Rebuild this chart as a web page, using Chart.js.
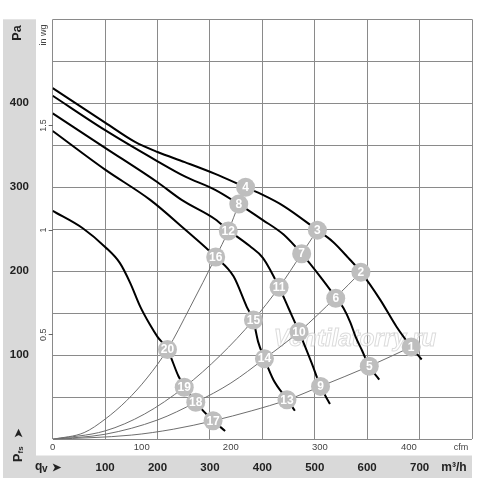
<!DOCTYPE html>
<html>
<head>
<meta charset="utf-8">
<title>Fan performance curves</title>
<script src="https://cdn.jsdelivr.net/npm/chart.js"></script>
<style>
  html, body { margin: 0; padding: 0; background: #fff; }
</style>
</head>
<body>
<canvas id="fanChart" width="500" height="480"></canvas>

<script>
// flow in m3/h, static pressure in Pa
const curve1Q = [0, 100, 157, 200, 252, 310, 368, 401, 440, 505, 535, 564, 588, 625, 656, 684, 704];
const curve1P = [418, 377, 354, 342, 330, 316, 300, 291, 278, 249, 235, 216, 199, 166, 134, 110, 95];
const curve2Q = [0, 100, 200, 252, 310, 355, 401, 440, 475, 510, 540, 555, 568, 578, 590, 604, 623];
const curve2P = [409, 368, 331, 313, 297, 280, 261, 244, 221, 194, 169, 156, 139, 122, 106, 87, 71];
const curve3Q = [0, 100, 200, 246, 310, 335, 376, 401, 432, 450, 470, 494, 511, 529];
const curve3P = [388, 347, 306, 285, 262, 249, 230, 216, 181, 156, 128, 91, 63, 42];
const curve4Q = [0, 100, 186, 252, 311, 345, 370, 383, 392, 404, 421, 448, 462];
const curve4P = [367, 321, 285, 250, 217, 194, 158, 141, 116, 96, 71, 47, 34];
const curve5Q = [0, 58, 100, 128, 148, 167, 186, 200, 219, 240, 252, 273, 306, 329];
const curve5P = [272, 251, 229, 210, 186, 158, 136, 122, 107, 75, 62, 44, 22, 10];

// system curves through the operating points
const sysAQ = [0, 60, 100, 141, 180, 219, 262, 311, 335, 355, 368];
const sysAP = [0, 8, 24, 46, 73, 107, 157, 217, 248, 280, 300];
const sysBQ = [0, 100, 175, 251, 320, 383, 432, 475, 505];
const sysBP = [0, 10, 30, 62, 100, 142, 181, 221, 249];
const sysCQ = [0, 100, 200, 273, 340, 404, 470, 540, 588];
const sysCP = [0, 6, 23, 44, 67, 96, 128, 169, 199];
const sysDQ = [0, 150, 230, 306, 380, 448, 511, 604, 684];
const sysDP = [0, 5, 12, 22, 34, 47, 63, 87, 110];

// numbered operating points 1..20
const pointLabels = ['1','2','3','4','5','6','7','8','9','10','11','12','13','14','15','16','17','18','19','20'];
const pointQ = [684, 588, 505, 368, 604, 540, 475, 355, 511, 470, 432, 335, 447, 404, 383, 311, 306, 273, 251, 219];
const pointP = [110, 199, 249, 300, 87, 168, 221, 280, 63, 128, 181, 248, 47, 96, 142, 217, 22, 44, 62, 107];

// tick labels
const flowTicks = [100, 200, 300, 400, 500, 600, 700];
const paTicks = [100, 200, 300, 400];
const cfmTicks = [0, 100, 200, 300, 400];
const inwgTicks = [0.5, 1, 1.5];

const M3H_PER_CFM = 1.699;
const PA_PER_INWG = 249.089;
const FONT = "'Liberation Sans', Arial, sans-serif";

Chart.defaults.font.family = FONT;

function xy(qs, ps) {
  return qs.map((q, i) => ({ x: q, y: ps[i] }));
}

function fanLine(qs, ps) {
  return {
    data: xy(qs, ps), showLine: true, pointRadius: 0, borderColor: '#000',
    borderWidth: 2, cubicInterpolationMode: 'monotone', order: 1
  };
}

function sysLine(qs, ps) {
  return {
    data: xy(qs, ps), showLine: true, pointRadius: 0, borderColor: '#6e6e6e',
    borderWidth: 1, cubicInterpolationMode: 'monotone', order: 2
  };
}

function rotText(ctx, text, x, y, font, color) {
  ctx.save();
  ctx.translate(x, y);
  ctx.rotate(-Math.PI / 2);
  ctx.font = font;
  ctx.fillStyle = color;
  ctx.textAlign = 'center';
  ctx.textBaseline = 'middle';
  ctx.fillText(text, 0, 0);
  ctx.restore();
}

const decor = {
  id: 'decor',
  beforeDraw(chart) {
    const ctx = chart.ctx;
    const area = chart.chartArea;
    ctx.save();
    ctx.fillStyle = '#fff';
    ctx.fillRect(0, 0, chart.width, chart.height);
    ctx.fillStyle = '#d9d9d9';
    ctx.fillRect(3, area.top, 33, 478 - area.top);
    ctx.fillRect(3, 455.5, area.right - 3, 22.5);
    ctx.restore();
  },
  beforeDatasetsDraw(chart) {
    const ctx = chart.ctx;
    ctx.save();
    ctx.font = "italic bold 24px " + FONT;
    ctx.textAlign = 'center';
    ctx.textBaseline = 'middle';
    ctx.fillStyle = 'rgba(255,255,255,0.55)';
    ctx.strokeStyle = 'rgba(190,190,190,0.55)';
    ctx.lineWidth = 1;
    ctx.fillText('Ventilatorry.ru', 355, 339);
    ctx.strokeText('Ventilatorry.ru', 355, 339);
    ctx.restore();
  },
  afterDatasetsDraw(chart) {
    const ctx = chart.ctx;
    const meta = chart.getDatasetMeta(0);
    ctx.save();
    ctx.font = "bold 12px " + FONT;
    ctx.fillStyle = '#fff';
    ctx.textAlign = 'center';
    ctx.textBaseline = 'middle';
    meta.data.forEach((el, i) => {
      ctx.fillText(pointLabels[i], el.x, el.y + 0.5);
    });
    ctx.restore();
  },
  afterDraw(chart) {
    const ctx = chart.ctx;
    const inwg = chart.scales.inwg;
    const bold = "bold 12px " + FONT;
    const small = "9px " + FONT;

    rotText(ctx, 'Pa', 18, 33, "bold 12.5px " + FONT, '#222');
    rotText(ctx, 'in wg', 43.5, 35, small, '#444');
    inwgTicks.forEach(v => {
      rotText(ctx, String(v), 43.5, inwg.getPixelForValue(v), small, '#444');
    });

    // Pfs with arrow, reading upwards
    ctx.save();
    ctx.translate(19, 462);
    ctx.rotate(-Math.PI / 2);
    ctx.fillStyle = '#222';
    ctx.textBaseline = 'middle';
    ctx.textAlign = 'left';
    ctx.font = "bold 12.5px " + FONT;
    ctx.fillText('P', 0, 0);
    ctx.font = "bold 8px " + FONT;
    ctx.fillText('fs', 8.5, 2);
    ctx.font = "bold 11px " + FONT;
    ctx.fillText('\u27A4', 24, 0);
    ctx.restore();

    ctx.save();
    ctx.fillStyle = '#222';
    ctx.textBaseline = 'middle';
    ctx.textAlign = 'left';
    ctx.font = bold;
    ctx.fillText('q', 35, 467);
    ctx.font = "bold 10px " + FONT;
    ctx.fillText('v', 42, 469);
    ctx.font = "bold 11px " + FONT;
    ctx.fillText('\u27A4', 52, 468);
    ctx.textAlign = 'center';
    ctx.font = bold;
    ctx.fillText('m\u00B3/h', 454, 468);
    ctx.font = small;
    ctx.fillStyle = '#444';
    ctx.fillText('cfm', 461, 448);
    ctx.restore();
  }
};

const datasets = [
  {
    data: xy(pointQ, pointP), pointRadius: 9.5, pointHoverRadius: 9.5,
    backgroundColor: '#bebebe', borderWidth: 0, order: 0
  },
  fanLine(curve1Q, curve1P),
  fanLine(curve2Q, curve2P),
  fanLine(curve3Q, curve3P),
  fanLine(curve4Q, curve4P),
  fanLine(curve5Q, curve5P),
  sysLine(sysAQ, sysAP),
  sysLine(sysBQ, sysBP),
  sysLine(sysCQ, sysCP),
  sysLine(sysDQ, sysDP)
];

new Chart(document.getElementById('fanChart').getContext('2d'), {
  type: 'scatter',
  data: { datasets: datasets },
  plugins: [decor],
  options: {
    responsive: false,
    animation: false,
    layout: { padding: { top: 19.3, right: 28, left: 0, bottom: 0 } },
    plugins: { legend: { display: false }, tooltip: { enabled: false } },
    events: [],
    scales: {
      x: {
        type: 'linear', position: 'bottom', weight: 1, min: 0, max: 800,
        ticks: {
          stepSize: 100, autoSkip: false, maxRotation: 0, padding: 6,
          color: '#222', font: { size: 11.5, weight: 'bold' },
          callback: v => flowTicks.includes(v) ? String(v) : ''
        },
        grid: { color: '#8a8a8a', lineWidth: 1, drawTicks: false },
        border: { display: false },
        afterFit: s => { s.height = 24.7; }
      },
      cfm: {
        type: 'linear', position: 'bottom', weight: 0, min: 0, max: 800 / M3H_PER_CFM,
        afterBuildTicks: s => { s.ticks = cfmTicks.map(v => ({ value: v })); },
        ticks: { autoSkip: false, maxRotation: 0, padding: 2.5, color: '#444', font: { size: 9.5 } },
        grid: { display: false, drawTicks: false },
        border: { display: false },
        afterFit: s => { s.height = 16; }
      },
      y: {
        type: 'linear', position: 'left', weight: 1, min: 0, max: 500,
        ticks: {
          stepSize: 50, autoSkip: false, padding: 7,
          color: '#222', font: { size: 11.5, weight: 'bold' },
          callback: v => paTicks.includes(v) ? String(v) : ''
        },
        grid: { color: '#8a8a8a', lineWidth: 1, drawTicks: false },
        border: { display: false },
        afterFit: s => { s.width = 36; }
      },
      inwg: {
        type: 'linear', position: 'left', weight: 0, min: 0, max: 500 / PA_PER_INWG,
        afterBuildTicks: s => { s.ticks = inwgTicks.map(v => ({ value: v })); },
        ticks: { display: false },
        grid: { drawOnChartArea: false, drawTicks: true, tickLength: 4, color: '#666' },
        border: { display: false },
        afterFit: s => { s.width = 16.7; }
      }
    }
  }
});
</script>
</body>
</html>
